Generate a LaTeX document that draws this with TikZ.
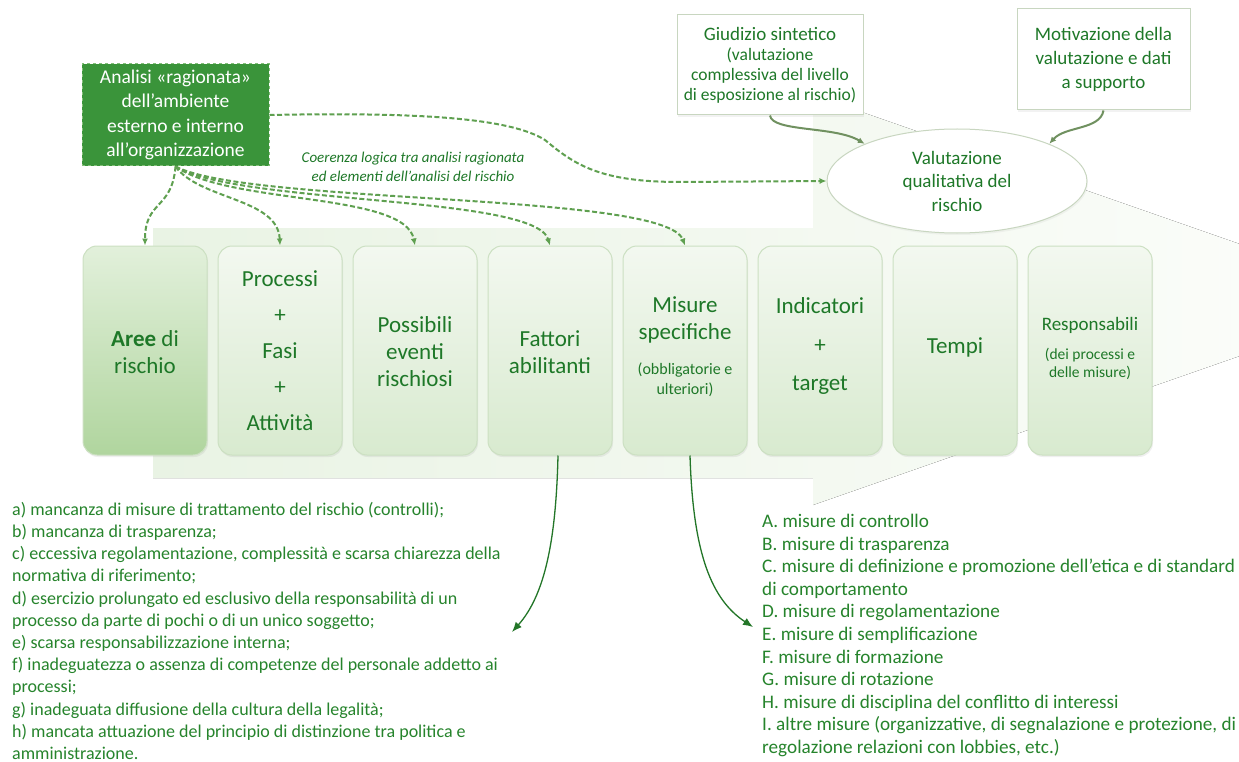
\documentclass[tikz,border=0pt]{standalone}
\usepackage{fontspec}
\setmainfont{Carlito}
\usetikzlibrary{arrows.meta,shapes.geometric,shadows}
\definecolor{tgreen}{RGB}{30,120,40}
\definecolor{lgreen}{RGB}{38,132,44}
\definecolor{boxgreen}{RGB}{58,148,58}
\definecolor{boxedge}{RGB}{130,190,120}
\definecolor{dashgreen}{RGB}{95,160,80}
\definecolor{cardtop}{RGB}{243,248,240}
\definecolor{cardbot}{RGB}{216,234,207}
\definecolor{cardtopA}{RGB}{226,240,219}
\definecolor{cardbotA}{RGB}{176,213,158}
\definecolor{cardedge}{RGB}{204,224,194}
\definecolor{bgL}{RGB}{233,243,228}
\definecolor{bgR}{RGB}{253,254,252}
\definecolor{grayedge}{RGB}{200,214,192}
\definecolor{solidgray}{RGB}{112,145,96}
\definecolor{darkarrow}{RGB}{35,118,40}
\begin{document}
\begin{tikzpicture}[x=1pt,y=-1pt,
  card/.style={draw=cardedge, line width=1pt, rounded corners=14pt,
    minimum width=124pt, minimum height=209pt, inner sep=0pt,
    top color=cardtop, bottom color=cardbot,
    drop shadow={opacity=0.12, shadow xshift=1pt, shadow yshift=-2pt}},
  cardA/.style={card, top color=cardtopA, bottom color=cardbotA},
  ctext/.style={text=tgreen, align=center, inner sep=0pt,
    font=\fontsize{23}{27}\selectfont},
  csmall/.style={text=tgreen, align=center, inner sep=0pt,
    font=\fontsize{16}{20}\selectfont},
  anabox/.style={fill=boxgreen, draw=boxedge, dashed, line width=1pt,
    minimum width=187pt, minimum height=102pt, text=white, align=center,
    inner sep=0pt, font=\fontsize{19.5}{24.5}\selectfont},
  wbox/.style={draw=grayedge, fill=white, line width=1pt, text=tgreen,
    align=center, inner sep=0pt,
    drop shadow={opacity=0.10, shadow xshift=1pt, shadow yshift=-2pt}},
  dcon/.style={draw=dashgreen, line width=2pt, dash pattern=on 5pt off 2.5pt,
    -{Latex[length=7pt,width=6pt]}},
  gcon/.style={draw=solidgray, line width=2pt, -{Latex[length=7pt,width=6pt]}},
  darr/.style={draw=darkarrow, line width=1.3pt, -{Latex[length=10pt,width=8pt]}},
  listtext/.style={text=lgreen, align=left, inner sep=0pt, anchor=north west}
]
\useasboundingbox (0,0) rectangle (1239,762);
\fill[white] (0,0) rectangle (1239,762);

% background process arrow
\begin{scope}
\clip (0,0) rectangle (1239,762);
\fill[left color=bgL, right color=bgR] (153,228) -- (813,228) -- (813,95)
  -- (1400,300) -- (813,505) -- (813,478) -- (153,478) -- cycle;
\end{scope}

% cards
\node[cardA] (c1) at (145,350.5) {};
\node[card] (c2) at (280,350.5) {};
\node[card] (c3) at (415,350.5) {};
\node[card] (c4) at (550,350.5) {};
\node[card] (c5) at (685,350.5) {};
\node[card] (c6) at (820,350.5) {};
\node[card] (c7) at (955,350.5) {};
\node[card] (c8) at (1090,350.5) {};

\node[ctext] (t1) at (145,352) {\textbf{Aree} di\\rischio};
\node[ctext, font=\fontsize{23}{36}\selectfont] (t2) at (280,351) {Processi\\+\\Fasi\\+\\Attività};
\node[ctext] (t3) at (415,352) {Possibili\\eventi\\rischiosi};
\node[ctext] (t4) at (550,352) {Fattori\\abilitanti};
\node[ctext] (t5) at (685,320) {Misure\\specifiche};
\node[csmall] (t5b) at (685,380) {(obbligatorie e\\ulteriori)};
\node[ctext, font=\fontsize{23}{38.5}\selectfont] (t6) at (820,346) {Indicatori\\+\\target};
\node[ctext] (t7) at (955,347) {Tempi};
\node[ctext, font=\fontsize{19}{22}\selectfont] (t8) at (1090,325) {Responsabili};
\node[csmall, font=\fontsize{15.5}{18.5}\selectfont] (t8b) at (1090,364) {(dei processi e\\delle misure)};

% top boxes
\node[anabox] (ana) at (175.5,115) {Analisi «ragionata»\\dell’ambiente\\esterno e interno\\all’organizzazione};
\node[wbox, minimum width=186pt, minimum height=100pt, font=\fontsize{17.5}{20}\selectfont] (giud) at (770,65)
  {{\fontsize{19}{20}\selectfont Giudizio sintetico}\\(valutazione\\complessiva del livello\\di esposizione al rischio)};
\node[wbox, minimum width=173pt, minimum height=101pt, font=\fontsize{19}{24}\selectfont] (mot) at (1103.5,59.5)
  {Motivazione della\\valutazione e dati\\a supporto};
\node[ellipse, draw=grayedge, fill=white, line width=1pt, minimum width=260pt, minimum height=104pt,
  inner sep=0pt, text=tgreen, align=center, font=\fontsize{19}{23.5}\selectfont,
  drop shadow={opacity=0.08, shadow xshift=1pt, shadow yshift=-2pt}] (val) at (957,181)
  {Valutazione\\qualitativa del\\rischio};

\node[text=tgreen, align=center, inner sep=0pt, font=\itshape\fontsize{15}{18.5}\selectfont] (note) at (413,167)
  {Coerenza logica tra analisi ragionata\\ed elementi dell’analisi del rischio};

% dashed connectors
\draw[dcon] (ana.south) .. controls (172,210) and (145,200) .. (c1.north);
\draw[dcon] (ana.south) .. controls (200,200) and (278,198) .. (c2.north);
\draw[dcon] (ana.south) .. controls (230,205) and (405,192) .. (c3.north);
\draw[dcon] (ana.south) .. controls (240,205) and (535,195) .. (c4.north);
\draw[dcon] (ana.south) .. controls (250,205) and (665,192) .. (c5.north);
\draw[dcon] (ana.east) .. controls (420,112) and (510,118) .. (545,140)
  .. controls (575,165) and (600,182) .. (680,182) -- (val.west);

% solid connectors to ellipse
\draw[gcon] (giud.south) .. controls (772,132) and (835,126) .. (val.north west);
\draw[gcon] (mot.south) .. controls (1100,130) and (1065,126) .. (val.north east);

% long arrows to lists
\coordinate (lt) at (512,632);
\coordinate (rt) at (753,627);
\draw[darr] ([xshift=8pt]c4.south) .. controls (556,540) and (545,595) .. (lt);
\draw[darr] ([xshift=5pt]c5.south) .. controls (693,555) and (712,600) .. (rt);

% lists
\node[listtext, font=\fontsize{18}{22.2}\selectfont] (lista) at (12,502) {%
a) mancanza di misure di trattamento del rischio (controlli);\\
b) mancanza di trasparenza;\\
c) eccessiva regolamentazione, complessità e scarsa chiarezza della\\
normativa di riferimento;\\
d) esercizio prolungato ed esclusivo della responsabilità di un\\
processo da parte di pochi o di un unico soggetto;\\
e) scarsa responsabilizzazione interna;\\
f) inadeguatezza o assenza di competenze del personale addetto ai\\
processi;\\
g) inadeguata diffusione della cultura della legalità;\\
h) mancata attuazione del principio di distinzione tra politica e\\
amministrazione.};
\node[listtext, font=\fontsize{19.2}{22.6}\selectfont] (listb) at (762,514) {%
A. misure di controllo\\
B. misure di trasparenza\\
C. misure di definizione e promozione dell’etica e di standard\\
di comportamento\\
D. misure di regolamentazione\\
E. misure di semplificazione\\
F. misure di formazione\\
G. misure di rotazione\\
H. misure di disciplina del conflitto di interessi\\
I. altre misure (organizzative, di segnalazione e protezione, di\\
regolazione relazioni con lobbies, etc.)};
\end{tikzpicture}
\end{document}
